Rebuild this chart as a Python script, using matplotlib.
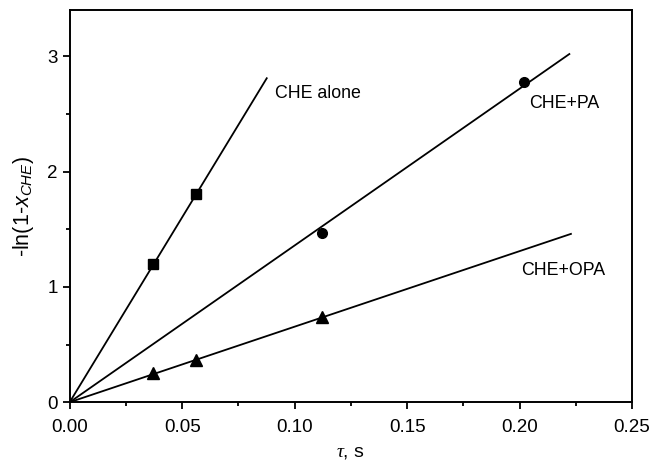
import matplotlib.pyplot as plt
import numpy as np

plt.rcParams['font.family'] = ['Liberation Sans', 'DejaVu Sans']
plt.rcParams['mathtext.fontset'] = 'custom'
plt.rcParams['mathtext.rm'] = 'Liberation Sans'
plt.rcParams['mathtext.sf'] = 'Liberation Sans:italic'
plt.rcParams['mathtext.it'] = 'Liberation Serif:italic'

# measured points
alone_tau = [0.037, 0.056]
alone_y = [1.20, 1.81]
pa_tau = [0.112, 0.202]
pa_y = [1.47, 2.78]
opa_tau = [0.037, 0.056, 0.112]
opa_y = [0.25, 0.37, 0.74]

# fitted lines through the origin: (end tau, end value)
alone_fit = [(0.0, 0.0), (0.0876, 2.81)]
pa_fit = [(0.0, 0.0), (0.2221, 3.02)]
opa_fit = [(0.0, 0.0), (0.2228, 1.46)]

labels = ['CHE alone', 'CHE+PA', 'CHE+OPA']
label_pos = [(0.0912, 2.68), (0.204, 2.59), (0.2005, 1.145)]

fig = plt.figure(figsize=(6.51, 4.65), dpi=100)
ax = fig.add_axes([0.107, 0.135, 0.864, 0.843])

for fit in (alone_fit, pa_fit, opa_fit):
    fx, fy = zip(*fit)
    ax.plot(fx, fy, color='black', lw=1.3)

ax.plot(alone_tau, alone_y, 's', color='black', ms=7)
ax.plot(pa_tau, pa_y, 'o', color='black', ms=7)
ax.plot(opa_tau, opa_y, '^', color='black', ms=8)

for lab, (tx, ty) in zip(labels, label_pos):
    ax.text(tx, ty, lab, fontsize=12.8, ha='left', va='center')

ax.set_xlim(0, 0.25)
ax.set_ylim(0, 3.4)
ax.set_xticks(np.arange(0, 0.251, 0.05))
ax.set_xticks(np.arange(0.025, 0.25, 0.05), minor=True)
ax.set_yticks([0, 1, 2, 3])
ax.set_yticks([0.5, 1.5, 2.5], minor=True)
ax.set_xticklabels(['0.00', '0.05', '0.10', '0.15', '0.20', '0.25'])
ax.tick_params(which='major', direction='out', length=5, width=1.3, labelsize=13.5)
ax.tick_params(axis='x', which='major', pad=7)
ax.tick_params(which='minor', direction='out', length=3, width=1.3)
for s in ax.spines.values():
    s.set_linewidth(1.4)

ax.set_xlabel(r'$\tau$, s', fontsize=14, labelpad=6)
ax.set_ylabel(r'-ln(1-$\mathsf{x}_{\mathsf{CHE}}$)', fontsize=15.5, labelpad=8)

fig.savefig('out.png', dpi=100)
